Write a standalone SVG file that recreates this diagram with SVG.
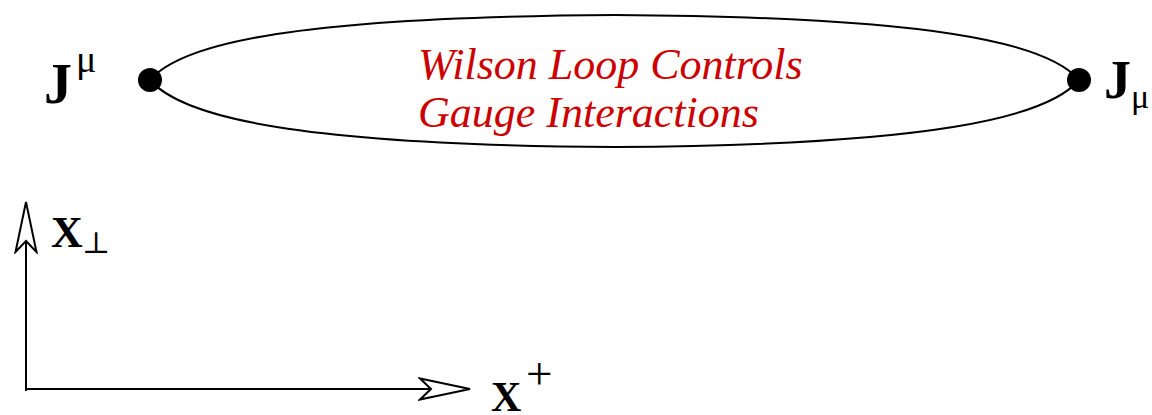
<svg xmlns="http://www.w3.org/2000/svg" width="1152" height="415" viewBox="0 0 1152 415">
<style>
.ln{fill:none;stroke:#000;stroke-width:2}
.bold{font-family:"Liberation Serif",serif;font-weight:bold;fill:#000}
.sym{font-family:"Liberation Serif","DejaVu Serif",serif;fill:#000}
.red{font-family:"Liberation Serif",serif;font-style:italic;fill:#cc0000;font-size:44px}
</style>
<defs>
<marker id="oa" viewBox="0 0 54 24" refX="52" refY="12" markerWidth="54" markerHeight="24" markerUnits="userSpaceOnUse" orient="auto">
<path d="M52,12 L2,1.5 L13,12 L2,22.5 Z" fill="#fff" stroke="#000" stroke-width="2" stroke-linejoin="miter"/>
</marker>
</defs>
<g id="connectors">
<path class="ln" d="M150,80 C183,42 300,17 615,15 C930,17 1047,42 1079,80"/>
<path class="ln" d="M150,80 C183,118 300,145 615,147 C930,145 1047,118 1079,80"/>
<path class="ln" d="M26,391 L26,202" marker-end="url(#oa)"/>
<path class="ln" d="M25,389 L470,389" marker-end="url(#oa)"/>
</g>
<g id="node-left">
<circle cx="150" cy="80" r="12" fill="#000"/>
<text class="bold" x="44" y="103" font-size="56">J</text>
<text class="sym" x="76" y="72" font-size="38">μ</text>
</g>
<g id="node-right">
<circle cx="1079" cy="80" r="12" fill="#000"/>
<text class="bold" x="1104" y="98" font-size="54">J</text>
<text class="sym" x="1131" y="108" font-size="34">μ</text>
</g>
<g id="label">
<text class="red" x="418" y="79">Wilson Loop Controls</text>
<text class="red" x="418" y="127">Gauge Interactions</text>
</g>
<g id="axis-perp">
<text class="bold" x="51" y="247" font-size="44">X</text>
<text class="sym" x="82" y="253" font-size="30">⊥</text>
</g>
<g id="axis-plus">
<text class="bold" x="491" y="411" font-size="42">X</text>
<text class="sym" x="526" y="389" font-size="47">+</text>
</g>
</svg>
